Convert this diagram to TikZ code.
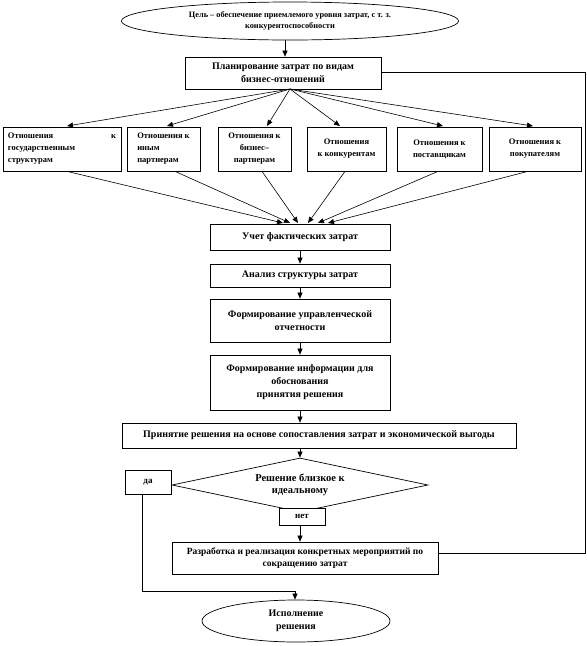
\documentclass[tikz,border=0pt]{standalone}
\usepackage{fontspec}
\setmainfont{Liberation Serif}
\usetikzlibrary{shapes.geometric,arrows.meta}
\begin{document}
\begin{tikzpicture}[x=1pt,y=-1pt,
  every node/.style={font=\bfseries\fontsize{10}{13}\selectfont, align=center, inner sep=1pt},
  box/.style={draw, line width=0.7pt, fill=white},
  sbox/.style={box, font=\bfseries\fontsize{8.5}{12}\selectfont, minimum height=44pt},
  oval/.style={draw, line width=0.7pt, ellipse, inner sep=0pt},
  arr/.style={line width=0.6pt, -{Triangle[width=5pt,length=6pt]}},
  ln/.style={line width=0.6pt}]
\useasboundingbox (0,0) rectangle (587,646);
% top ellipse
\node[oval, minimum width=337pt, minimum height=38pt, font=\bfseries\fontsize{8.3}{11}\selectfont] (goal) at (290,21)
  {Цель – обеспечение приемлемого уровня затрат, с т. з.\\ конкурентоспособности};
\node[box, minimum width=196pt, minimum height=32pt] (plan) at (283,73)
  {Планирование затрат по видам\\ бизнес-отношений};
% six relation boxes
\node[sbox, minimum width=118pt, align=left] (r1) at (62,149)
  {\parbox{108pt}{Отношения\hfill к\\ государственным\\ структурам}};
\node[sbox, minimum width=73pt, align=left] (r2) at (163.5,149)
  {Отношения к\\ иным\\ партнерам};
\node[sbox, minimum width=73pt] (r3) at (254.5,149)
  {Отношения к\\ бизнес–\\ партнерам};
\node[sbox, minimum width=79pt] (r4) at (346.5,149)
  {Отношения\\ к конкурентам};
\node[sbox, minimum width=85pt] (r5) at (439.5,149)
  {Отношения к\\ поставщикам};
\node[sbox, minimum width=92pt] (r6) at (535,149)
  {Отношения к\\ покупателям};
% process boxes
\node[box, minimum width=180pt, minimum height=26pt] (uchet) at (300,237) {Учет фактических затрат};
\node[box, minimum width=180pt, minimum height=23pt] (anal) at (300,275.5) {Анализ структуры затрат};
\node[box, minimum width=180pt, minimum height=43pt] (upr) at (300,320.5) {Формирование управленческой\\ отчетности};
\node[box, minimum width=180pt, minimum height=55pt] (inf) at (300,382.5) {Формирование информации для\\ обоснования\\ принятия решения};
\node[box, minimum width=394pt, minimum height=25pt, font=\bfseries\fontsize{10}{12}\selectfont] (prin) at (319,435.5)
  {Принятие решения на основе сопоставления затрат и экономической выгоды};
\node[draw, line width=0.7pt, diamond, aspect=4.7, minimum width=256pt, minimum height=54pt, inner sep=0pt,
  font=\bfseries\fontsize{10.5}{12}\selectfont] (dec) at (300,485) {Решение близкое к\\ идеальному};
\node[box, minimum width=46pt, minimum height=24pt, font=\bfseries\fontsize{9}{12}\selectfont] (yes) at (148,482) {да};
\node[box, minimum width=46pt, minimum height=17pt, font=\bfseries\fontsize{9}{12}\selectfont] (no) at (302,516.5) {нет};
\node[box, minimum width=266pt, minimum height=32pt, font=\bfseries\fontsize{9.5}{12}\selectfont] (dev) at (305,558)
  {Разработка и реализация конкретных мероприятий по\\ сокращению затрат};
\node[oval, minimum width=188pt, minimum height=42pt] (exec) at (296,621) {Исполнение\\ решения};
% coordinates
\coordinate (pb) at (290,89);
\coordinate (fr1) at (585,72);
\coordinate (fr2) at (585,553);
\coordinate (y1) at (142,591);
\coordinate (y2) at (295,591);
% connectors
\draw[arr] (goal.south -| 285,0) -- (plan.north -| 285,0);
\draw[arr] (pb) -- (67,126);
\draw[arr] (pb) -- (167,126);
\draw[arr] (pb) -- (267,126);
\draw[arr] (pb) -- (340,126);
\draw[arr] (pb) -- (443,126);
\draw[arr] (pb) -- (533,126);
\draw[arr] (r1.south -| 67,0) -- (283,223);
\draw[arr] (r2.south -| 175,0) -- (290,223);
\draw[arr] (r3.south -| 262,0) -- (298,223);
\draw[arr] (r4.south -| 345,0) -- (308,223);
\draw[arr] (r5.south -| 438,0) -- (318,223);
\draw[arr] (r6.south -| 528,0) -- (328,223);
\draw[arr] (uchet) -- (anal);
\draw[arr] (anal) -- (upr);
\draw[arr] (upr) -- (inf);
\draw[arr] (inf) -- (inf.south |- prin.north);
\draw[arr] (prin.south -| dec.north) -- (dec.north);
\draw[ln] (yes.east) -- (dec.west);
\draw[arr] (no.south -| 300,0) -- (dev.north -| 300,0);
\draw[ln] (plan.east |- fr1) -- (fr1) -- (fr2) -- (dev.east |- fr2);
\draw[ln] (yes.south -| y1) -- (y1) -- (y2);
\draw[arr] (y2) -- (exec.north -| y2);
\end{tikzpicture}
\end{document}
